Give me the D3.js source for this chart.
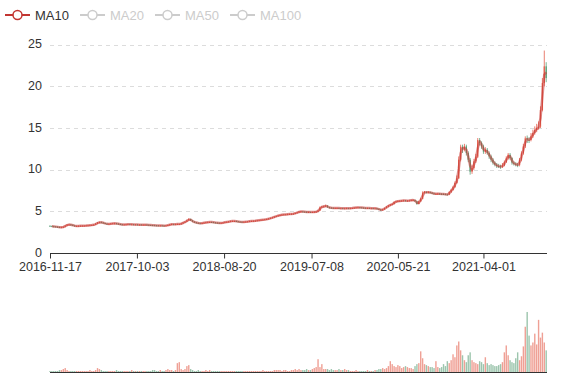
<!DOCTYPE html>
<html><head><meta charset="utf-8">
<script src="https://cdn.jsdelivr.net/npm/d3@7/dist/d3.min.js"></script>
<style>body{margin:0;background:#fff}svg{display:block}text{font-family:"Liberation Sans",Arial,sans-serif}</style>
</head><body>
<script>
// ---- data (weekly samples) ----
const startDate = "2016-11-17";
const stepDays = 7;
const endDate = "2021-11-21";
const xTickLabels = ["2016-11-17","2017-10-03","2018-08-20","2019-07-08","2020-05-21","2021-04-01"];
const yTicks = [0,5,10,15,20,25];
const legendNames = ["MA10","MA20","MA50","MA100"];
const legendActive = [true,false,false,false];
const maWindowPoints = 2; // 10 trading days = 2 weekly samples

const openV = [
3.26,3.24,3.20,3.18,3.15,3.12,3.08,3.10,3.15,3.28,
3.40,3.42,3.38,3.30,3.24,3.25,3.26,3.27,3.28,3.28,
3.30,3.32,3.34,3.36,3.40,3.52,3.64,3.70,3.66,3.60,
3.52,3.48,3.50,3.54,3.56,3.56,3.52,3.48,3.44,3.40,
3.42,3.44,3.46,3.44,3.44,3.42,3.42,3.40,3.41,3.40,
3.40,3.40,3.38,3.36,3.35,3.33,3.32,3.31,3.30,3.30,
3.29,3.28,3.30,3.36,3.42,3.46,3.44,3.46,3.48,3.48,
3.55,3.66,3.76,3.92,4.08,3.90,3.76,3.68,3.62,3.58,
3.56,3.60,3.64,3.68,3.70,3.72,3.70,3.66,3.64,3.62,
3.60,3.62,3.66,3.70,3.74,3.78,3.82,3.84,3.84,3.80,
3.76,3.74,3.72,3.74,3.76,3.78,3.82,3.84,3.86,3.88,
3.92,3.94,3.98,4.00,4.04,4.08,4.14,4.20,4.28,4.36,
4.44,4.52,4.56,4.60,4.62,4.64,4.66,4.68,4.70,4.72,
4.80,4.88,4.96,4.98,4.96,4.94,4.92,4.92,4.90,4.92,
4.94,4.96,5.10,5.48,5.56,5.60,5.68,5.48,5.44,5.42,
5.40,5.40,5.40,5.38,5.38,5.36,5.36,5.38,5.36,5.38,
5.40,5.44,5.46,5.48,5.46,5.44,5.42,5.40,5.40,5.38,
5.38,5.36,5.36,5.30,5.22,5.16,5.24,5.40,5.56,5.70,
5.80,5.88,6.12,6.20,6.24,6.26,6.28,6.30,6.28,6.28,
6.30,6.34,6.36,6.20,5.88,6.20,6.50,7.24,7.30,7.28,
7.30,7.24,7.16,7.10,7.10,7.12,7.10,7.08,7.06,7.04,
7.00,7.30,7.56,7.90,8.40,8.96,11.20,12.76,12.40,12.80,
12.00,11.20,9.76,10.20,11.00,11.56,13.56,13.20,12.80,12.16,
12.40,12.00,11.60,11.20,10.84,10.60,10.44,10.40,10.36,10.50,
10.90,11.36,11.80,11.40,10.84,10.70,10.60,10.56,11.20,11.96,
12.80,13.76,13.60,13.56,14.00,14.40,14.76,15.00,15.16,17.16,
20.40,22.40];
const closeV = [
3.24,3.20,3.18,3.15,3.12,3.08,3.10,3.15,3.28,3.40,
3.42,3.38,3.30,3.24,3.25,3.26,3.27,3.28,3.28,3.30,
3.32,3.34,3.36,3.40,3.52,3.64,3.70,3.66,3.60,3.52,
3.48,3.50,3.54,3.56,3.56,3.52,3.48,3.44,3.40,3.42,
3.44,3.46,3.44,3.44,3.42,3.42,3.40,3.41,3.40,3.40,
3.40,3.38,3.36,3.35,3.33,3.32,3.31,3.30,3.30,3.29,
3.28,3.30,3.36,3.42,3.46,3.44,3.46,3.48,3.48,3.55,
3.66,3.76,3.92,4.08,3.90,3.76,3.68,3.62,3.58,3.56,
3.60,3.64,3.68,3.70,3.72,3.70,3.66,3.64,3.62,3.60,
3.62,3.66,3.70,3.74,3.78,3.82,3.84,3.84,3.80,3.76,
3.74,3.72,3.74,3.76,3.78,3.82,3.84,3.86,3.88,3.92,
3.94,3.98,4.00,4.04,4.08,4.14,4.20,4.28,4.36,4.44,
4.52,4.56,4.60,4.62,4.64,4.66,4.68,4.70,4.72,4.80,
4.88,4.96,4.98,4.96,4.94,4.92,4.92,4.90,4.92,4.94,
4.96,5.10,5.48,5.56,5.60,5.68,5.48,5.44,5.42,5.40,
5.40,5.40,5.38,5.38,5.36,5.36,5.38,5.36,5.38,5.40,
5.44,5.46,5.48,5.46,5.44,5.42,5.40,5.40,5.38,5.38,
5.36,5.36,5.30,5.22,5.16,5.24,5.40,5.56,5.70,5.80,
5.88,6.12,6.20,6.24,6.26,6.28,6.30,6.28,6.28,6.30,
6.34,6.36,6.20,5.88,6.20,6.50,7.24,7.30,7.28,7.30,
7.24,7.16,7.10,7.10,7.12,7.10,7.08,7.06,7.04,7.00,
7.30,7.56,7.90,8.40,8.96,11.20,12.76,12.40,12.80,12.00,
11.20,9.76,10.20,11.00,11.56,13.56,13.20,12.80,12.16,12.40,
12.00,11.60,11.20,10.84,10.60,10.44,10.40,10.36,10.50,10.90,
11.36,11.80,11.40,10.84,10.70,10.60,10.56,11.20,11.96,12.80,
13.76,13.60,13.56,14.00,14.40,14.76,15.00,15.16,17.16,20.40,
22.40,21.00];
const highV = [
3.32,3.30,3.26,3.24,3.21,3.18,3.16,3.21,3.34,3.47,
3.49,3.47,3.43,3.35,3.30,3.31,3.32,3.33,3.34,3.36,
3.38,3.40,3.42,3.46,3.58,3.72,3.78,3.76,3.71,3.65,
3.57,3.56,3.60,3.62,3.62,3.61,3.57,3.53,3.49,3.48,
3.50,3.52,3.51,3.50,3.49,3.48,3.47,3.46,3.46,3.45,
3.46,3.45,3.43,3.41,3.40,3.38,3.37,3.36,3.36,3.35,
3.34,3.36,3.42,3.48,3.52,3.51,3.52,3.54,3.54,3.62,
3.74,3.84,4.02,4.18,4.12,3.95,3.81,3.73,3.67,3.63,
3.66,3.70,3.74,3.76,3.78,3.77,3.75,3.71,3.69,3.67,
3.68,3.72,3.76,3.80,3.84,3.88,3.90,3.90,3.89,3.85,
3.81,3.79,3.80,3.82,3.84,3.88,3.90,3.92,3.94,3.98,
4.00,4.04,4.06,4.10,4.14,4.20,4.26,4.34,4.42,4.50,
4.58,4.62,4.66,4.68,4.70,4.72,4.74,4.76,4.78,4.86,
4.94,5.02,5.04,5.03,5.01,4.99,4.98,4.97,4.98,5.00,
5.02,5.20,5.60,5.66,5.70,5.80,5.74,5.53,5.49,5.47,
5.46,5.46,5.45,5.44,5.43,5.42,5.44,5.43,5.44,5.46,
5.50,5.52,5.56,5.53,5.51,5.49,5.47,5.46,5.45,5.44,
5.43,5.42,5.41,5.35,5.27,5.30,5.46,5.62,5.78,5.90,
5.98,6.22,6.28,6.32,6.34,6.36,6.38,6.36,6.36,6.38,
6.42,6.46,6.42,6.26,6.28,6.62,7.40,7.44,7.40,7.42,
7.38,7.30,7.24,7.20,7.22,7.20,7.18,7.16,7.14,7.12,
7.42,7.70,8.06,8.60,9.30,11.60,13.00,13.00,13.10,13.00,
12.20,11.40,10.60,11.30,11.90,13.80,13.80,13.40,13.00,12.70,
12.60,12.20,11.80,11.40,11.00,10.80,10.70,10.60,10.80,11.10,
11.60,12.00,12.00,11.50,11.00,10.90,10.80,11.40,12.20,13.10,
14.00,14.10,13.90,14.40,14.80,15.20,15.50,15.80,17.60,21.00,
24.30,22.90];
const lowV = [
3.18,3.14,3.12,3.09,3.06,3.02,3.03,3.05,3.10,3.23,
3.35,3.33,3.25,3.19,3.19,3.20,3.21,3.22,3.23,3.23,
3.25,3.27,3.29,3.31,3.35,3.47,3.58,3.60,3.54,3.46,
3.42,3.43,3.45,3.49,3.50,3.46,3.42,3.38,3.34,3.35,
3.37,3.39,3.39,3.39,3.37,3.37,3.35,3.35,3.35,3.35,
3.35,3.33,3.31,3.30,3.28,3.27,3.26,3.25,3.25,3.24,
3.23,3.23,3.25,3.31,3.37,3.39,3.39,3.41,3.43,3.43,
3.50,3.61,3.71,3.87,3.84,3.70,3.62,3.56,3.52,3.50,
3.51,3.55,3.59,3.63,3.65,3.65,3.60,3.58,3.56,3.54,
3.55,3.57,3.61,3.65,3.69,3.73,3.77,3.79,3.74,3.70,
3.68,3.66,3.67,3.69,3.71,3.73,3.77,3.79,3.81,3.83,
3.87,3.89,3.93,3.95,3.99,4.03,4.09,4.15,4.23,4.31,
4.39,4.47,4.51,4.55,4.57,4.59,4.61,4.63,4.65,4.67,
4.75,4.83,4.91,4.91,4.89,4.87,4.87,4.85,4.85,4.87,
4.89,4.91,5.05,5.42,5.48,5.54,5.42,5.38,5.37,5.35,
5.35,5.35,5.33,5.33,5.31,5.31,5.31,5.31,5.31,5.33,
5.35,5.39,5.41,5.41,5.39,5.37,5.35,5.35,5.33,5.33,
5.31,5.31,5.24,5.15,5.08,5.10,5.19,5.35,5.50,5.64,
5.74,5.82,6.05,6.14,6.18,6.20,6.22,6.22,6.22,6.22,
6.24,6.28,6.12,5.78,5.82,6.14,6.44,7.14,7.18,7.18,
7.16,7.08,7.02,7.02,7.02,7.02,7.00,6.98,6.96,6.92,
6.94,7.22,7.48,7.82,8.30,8.90,11.00,12.00,12.20,11.70,
10.90,9.40,9.50,10.00,10.80,11.40,12.90,12.50,11.90,11.90,
11.80,11.30,10.90,10.60,10.40,10.20,10.20,10.10,10.20,10.40,
10.80,11.20,11.20,10.60,10.50,10.40,10.30,10.40,11.00,11.80,
12.60,13.20,13.20,13.40,13.80,14.20,14.50,14.80,15.00,17.00,
20.00,20.50];
const volumeV = [
1,1,1,1,1,2,2,3,4,2,
1,1,1,1,1,1,1,1,1,1,
1,2,1,1,2,4,3,2,1,1,
1,1,1,1,1,2,1,1,1,1,
1,1,1,2,1,1,1,1,1,1,
1,1,1,1,2,2,1,1,2,1,
1,2,3,2,2,1,2,9,10,3,
2,3,6,7,3,2,1,1,2,1,
1,1,2,1,2,1,1,1,1,1,
1,1,1,1,1,1,1,1,1,1,
1,1,1,1,1,1,1,1,1,1,
1,1,2,1,1,1,1,1,2,2,
2,2,1,2,2,1,1,2,2,3,
2,3,2,2,2,3,2,2,3,4,
5,13,5,8,3,3,3,2,3,2,
2,2,3,2,2,3,2,2,1,1,
1,2,1,1,1,1,1,2,1,1,
1,2,2,3,3,4,3,4,6,11,
8,6,5,7,6,4,5,6,5,4,
4,3,6,8,9,21,14,8,7,6,
5,5,4,11,5,4,5,8,6,11,
9,12,18,15,27,31,22,17,12,10,
17,20,12,10,9,8,11,10,8,15,
9,7,8,7,6,6,7,8,10,20,
27,17,12,10,9,14,20,12,16,26,
46,61,37,27,30,39,28,53,35,40,
30,22];

// ---- styles ----
const upColor = "#e4604e", downColor = "#5a9e77", maColor = "#c23531";
const W = 577, H = 380;
const L = 50, R = 547, priceTop = 44.7, priceBottom = 253, volTop = 311, volBottom = 372;
const legendStep = 75;

const parse = d3.utcParse("%Y-%m-%d");
const t0 = parse(startDate);
const dates = closeV.map((_, i) => d3.utcDay.offset(t0, i * stepDays));
const data = closeV.map((c, i) => ({date: dates[i], o: openV[i], c, h: highV[i], l: lowV[i], v: volumeV[i]}));
// MA over the last 10 trading days
data.forEach((d, i) => {
  if (i < maWindowPoints - 1) { d.ma = null; return; }
  let s = 0; for (let k = 0; k < maWindowPoints; k++) s += closeV[i - k];
  d.ma = s / maWindowPoints;
});

const svg = d3.select("body").append("svg").attr("width", W).attr("height", H);
const x = d3.scaleUtc().domain([parse(startDate), parse(endDate)]).range([L, R]);
const y = d3.scaleLinear().domain([0, 25]).range([priceBottom, priceTop]);
const yv = d3.scaleLinear().domain([0, 62]).range([volBottom, volTop]);

// grid + y labels
const gy = svg.append("g");
gy.selectAll("line").data(yTicks.filter(t => t > 0)).join("line")
  .attr("x1", L).attr("x2", R).attr("y1", d => Math.round(y(d)) + 0.5).attr("y2", d => Math.round(y(d)) + 0.5)
  .attr("stroke", "#dcdcdc").attr("stroke-dasharray", "4,4");
gy.selectAll("text").data(yTicks).join("text")
  .attr("x", 42).attr("y", d => y(d) - 1).attr("dy", "0.36em").attr("text-anchor", "end")
  .attr("font-size", 12.5).attr("fill", "#333").text(d => d);

// x axis
const xAxis = d3.axisBottom(x).tickValues(xTickLabels.map(parse)).tickSize(5).tickPadding(4)
  .tickFormat(d3.utcFormat("%Y-%m-%d"));
const gx = svg.append("g").attr("transform", `translate(0,${Math.round(priceBottom) + 0.5})`).call(xAxis);
gx.select(".domain").attr("stroke", "#333").attr("d", `M${L},0H${R}`);
gx.selectAll(".tick line").attr("stroke", "#333");
gx.selectAll(".tick text").attr("font-size", 12.5).attr("fill", "#333").attr("font-family", "Liberation Sans, Arial, sans-serif");

// candles
const bw = 1.3;
const cg = svg.append("g");
cg.selectAll("line").data(data).join("line")
  .attr("x1", d => x(d.date)).attr("x2", d => x(d.date))
  .attr("y1", d => y(d.h)).attr("y2", d => y(d.l))
  .attr("stroke", d => d.c >= d.o ? upColor : downColor).attr("stroke-width", 0.8);
cg.selectAll("rect").data(data).join("rect")
  .attr("x", d => x(d.date) - bw / 2).attr("width", bw)
  .attr("y", d => y(Math.max(d.o, d.c)))
  .attr("height", d => Math.max(1, Math.abs(y(d.o) - y(d.c))))
  .attr("fill", d => d.c >= d.o ? upColor : downColor);

// MA10
svg.append("path").datum(data)
  .attr("d", d3.line().defined(d => d.ma != null).x(d => x(d.date)).y(d => y(d.ma)))
  .attr("fill", "none").attr("stroke", maColor).attr("stroke-width", 2.5).attr("stroke-opacity", 0.55)
  .attr("stroke-linejoin", "round");

// volume
svg.append("g").selectAll("rect").data(data).join("rect")
  .attr("x", d => x(d.date) - 0.7).attr("width", 1.4)
  .attr("y", d => yv(d.v)).attr("height", d => volBottom - yv(d.v))
  .attr("fill", d => d.c >= d.o ? upColor : downColor).attr("fill-opacity", 0.6);
svg.append("line").attr("x1", L).attr("x2", R).attr("y1", volBottom + 0.5).attr("y2", volBottom + 0.5)
  .attr("stroke", "#333");

// legend
const lg = svg.append("g");
legendNames.forEach((name, i) => {
  const lx = 5 + i * legendStep;
  const col = legendActive[i] ? maColor : "#ccc";
  const g = lg.append("g");
  g.append("line").attr("x1", lx).attr("x2", lx + 25).attr("y1", 15).attr("y2", 15).attr("stroke", col).attr("stroke-width", 2);
  g.append("circle").attr("cx", lx + 12.5).attr("cy", 15).attr("r", 4.5).attr("fill", "#fff").attr("stroke", col).attr("stroke-width", 1.5);
  g.append("text").attr("x", lx + 30).attr("y", 19.5).attr("font-size", 13)
    .attr("fill", legendActive[i] ? "#333" : "#ccc").text(name);
});
</script>
</body></html>
